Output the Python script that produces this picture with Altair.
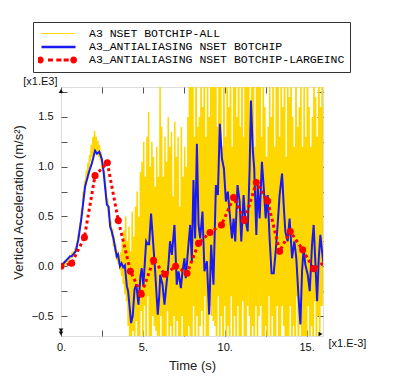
import altair as alt
import pandas as pd

# ---------------- data ----------------
names = ["A3 NSET BOTCHIP-ALL",
         "A3_ANTIALIASING NSET BOTCHIP",
         "A3_ANTIALIASING NSET BOTCHIP-LARGEINC"]
colors = ["#FFD700", "#1a1af0", "#FF0000"]

# gold series, sampled every 0.05 (x1.E-3 s), one block per 1 unit of time
gold_step = 0.05
g00 = [0.0, 0.02, -0.01, 0.03, 0.01, 0.05, 0.03, 0.07, 0.04, 0.09, 0.06, 0.11, 0.08, 0.12, 0.1, 0.15, 0.12, 0.18, 0.15, 0.22]
g01 = [0.24, 0.32, 0.3, 0.44, 0.42, 0.58, 0.55, 0.75, 0.7, 0.86, 0.82, 0.96, 0.9, 1.04, 0.98, 1.12, 1.05, 1.22, 1.1, 1.3]
g02 = [1.12, 1.36, 1.16, 1.3, 1.12, 1.26, 1.1, 1.22, 1.06, 1.15, 0.98, 1.05, 0.92, 0.96, 0.78, 0.8, 0.62, 0.68, 0.5, 0.6]
g03 = [0.38, 0.46, 0.3, 0.38, 0.2, 0.3, 0.14, 0.22, 0.06, 0.16, 0.02, 0.12, -0.04, 0.14, -0.1, 0.24, -0.18, 0.36, -0.28, 0.5]
g04 = [-0.35, 0.25, -0.6, 0.4, -0.85, 0.15, -0.75, 0.55, -0.65, 0.3, -0.9, 0.6, -0.55, 0.75, -0.8, 0.5, -0.95, 0.95, -0.45, 1.05]
g05 = [-0.85, 1.25, -0.4, 0.9, -1.0, 1.3, -0.3, 1.55, -0.85, 1.0, -1.1, 1.25, -0.5, 1.1, -0.6, 0.8, -0.65, 1.2, -0.95, 0.9]
g06 = [-1.2, 1.85, -0.5, 1.4, -1.1, 0.9, -0.8, 1.3, -1.3, 1.05, -0.45, 1.5, -0.9, 1.2, -0.6, 1.35, -1.2, 0.7, -0.5, 1.45]
g07 = [-1.0, 1.1, -0.55, 1.3, -0.9, 0.6, -1.2, 1.4, -0.5, 0.9, -1.1, 1.2, -0.8, 1.0, -1.3, 1.5, -0.6, 2.2, -1.0, 2.4]
g08 = [-0.9, 2.2, -0.4, 1.3, -1.5, 2.8, -0.5, 1.4, -1.0, 1.5, -0.6, 2.0, -0.45, 1.6, -0.8, 2.3, -0.3, 1.3, -1.8, 2.1]
g09 = [-0.7, 1.5, -0.4, 1.9, -0.5, 2.7, -0.55, 2.2, -0.6, 3.0, -1.5, 1.4, -0.3, 2.0, -1.2, 2.6, -0.5, 1.2, -1.6, 2.3]
g10 = [-0.4, 1.3, -1.3, 2.2, -0.6, 1.6, -1.4, 2.5, -0.3, 1.2, -1.1, 2.0, -0.5, 2.4, -1.6, 1.5, -0.4, 2.6, -1.2, 1.4]
g11 = [-0.7, 2.3, -0.35, 1.3, -0.9, 2.9, -1.2, 2.6, -0.4, 3.1, -0.5, 1.4, -1.6, 2.0, -0.6, 2.5, -1.3, 1.2, -0.4, 2.4]
g12 = [-1.1, 2.1, -0.5, 2.7, -0.4, 1.3, -0.9, 2.2, -1.2, 1.6, -0.6, 1.1, -1.7, 1.4, -0.3, 1.8, -1.3, 1.5, -0.5, 2.2]
g13 = [-1.0, 1.2, -1.5, 2.3, -0.4, 2.6, -1.2, 1.3, -0.9, 2.1, -0.4, 1.6, -0.6, 2.4, -1.1, 1.1, -0.8, 2.0, -1.5, 1.7]
g14 = [-0.4, 2.2, -1.3, 1.5, -0.6, 1.2, -1.6, 2.3, -0.3, 1.4, -1.8, 1.6, -0.5, 2.0, -0.8, 1.2, -1.4, 2.1, -0.7, 1.3]
g15 = [-1.1, 2.4, -0.4, 1.6, -1.3, 1.2, -0.6, 1.5, -1.5, 2.2, -0.35, 1.7, -1.2, 1.3, -0.5, 2.3, -1.0, 1.6, -0.4, 2.0]
g16 = [-0.4, 1.2]
gold_v = g00 + g01 + g02 + g03 + g04 + g05 + g06 + g07 + g08 + g09 + g10 + g11 + g12 + g13 + g14 + g15 + g16
gold_t = [round(i * gold_step, 2) for i in range(len(gold_v))]

blue_t = [0.0, 0.35, 0.55, 0.65, 0.9, 1.06, 1.26, 1.47, 1.6, 1.75, 1.88, 2.08, 2.2, 2.34, 2.49, 2.6,
          2.8, 2.9, 3.0, 3.1, 3.22, 3.4, 3.48, 3.6, 3.7, 3.8, 3.9, 4.02, 4.1, 4.28, 4.38, 4.49, 4.6,
          4.73, 4.85, 4.93, 5.03, 5.2, 5.3, 5.38, 5.5, 5.6, 5.75, 5.91, 6.0, 6.06, 6.2, 6.32, 6.46,
          6.56, 6.66, 6.77, 6.93, 7.07, 7.18, 7.32, 7.42, 7.54, 7.62, 7.75, 7.89, 7.99, 8.09, 8.19,
          8.3, 8.4, 8.5, 8.64, 8.76, 8.91, 9.05, 9.17, 9.31, 9.46, 9.58, 9.7, 9.83, 9.95, 10.07,
          10.19, 10.34, 10.44, 10.54, 10.64, 10.78, 10.91, 11.01, 11.15, 11.25, 11.4, 11.52, 11.6,
          11.72, 11.8, 11.93, 12.01, 12.13, 12.27, 12.37, 12.5, 12.62, 12.74, 12.86, 12.99, 13.11,
          13.23, 13.35, 13.5, 13.6, 13.7, 13.84, 13.96, 14.11, 14.25, 14.37, 14.51, 14.62, 14.72,
          14.82, 14.92, 15.07, 15.19, 15.33, 15.43, 15.54, 15.64, 15.74, 15.84, 15.94, 16.08]
blue_v = [0.0, 0.065, 0.1, 0.1, 0.15, 0.27, 0.5, 0.8, 0.88, 0.97, 1.03, 1.16, 1.13, 1.15, 1.08, 0.95,
          0.62, 0.6, 0.4, 0.35, 0.265, 0.1, 0.12, 0.0, 0.03, -0.01, 0.01, -0.2, -0.25, -0.57, -0.5,
          -0.235, -0.18, -0.385, -0.1, -0.02, -0.2, 0.25, 0.22, 0.22, 0.53, 0.3, -0.05, -0.485, -0.3,
          -0.085, -0.185, -0.385, -0.15, 0.015, 0.25, 0.115, 0.415, -0.185, -0.05, -0.22, -0.05,
          0.08, -0.12, 0.15, 0.415, 0.05, 0.865, 0.28, 1.23, 0.415, 0.28, 0.55, -0.05, 0.05, -0.485,
          0.215, -0.185, 0.815, 0.715, 1.43, 1.08, 0.98, 0.65, 0.75, 0.46, 0.28, 0.48, 0.25, 0.815,
          0.65, 0.25, 0.715, 0.48, 0.35, 0.98, 1.665, 1.15, 0.98, 0.315, 0.815, 0.48, 1.05, 0.815,
          0.48, 0.715, 0.28, -0.07, -0.07, 0.15, 0.415, 0.715, 0.93, 0.615, 0.35, 0.25, 0.48, 0.08,
          0.25, 0.08, -0.32, -0.585, -0.05, 0.18, 0.015, -0.085, -0.25, 0.215, 0.415, 0.015, -0.35,
          0.08, 0.315, 0.15, -0.05]

red_t = [0.0, 0.65, 1.43, 2.08, 2.83, 3.5, 4.24, 4.9, 5.65, 6.34, 7.0, 7.7, 8.4, 9.1, 9.8,
         10.54, 11.2, 11.93, 12.62, 13.35, 14.0, 14.76, 15.43, 16.5]
red_v = [0.0, 0.03, 0.29, 0.91, 1.04, 0.46, -0.05, -0.28, 0.06, -0.08, 0.0, -0.07, 0.23, 0.34,
         0.415, 0.69, 0.46, 0.84, 0.655, 0.15, 0.35, 0.165, -0.025, 0.08]

x_ticks_major = [0, 5, 10, 15]
x_ticks_minor = [0, 2.5, 5, 7.5, 10, 12.5, 15]
y_ticks_major = [-0.5, 0.0, 0.5, 1.0, 1.5]
y_ticks_minor = [-0.5, -0.25, 0.0, 0.25, 0.5, 0.75, 1.0, 1.25, 1.5, 1.75]
x_domain = [0, 16]
y_domain = [-0.7, 1.8]

# axis-end arrow glyphs
arrow_t = [0, 0, 0, 15.85]
arrow_v = [1.76, -0.645, -0.675, -0.68]
arrow_shape = ["triangle-up", "triangle-down", "triangle-down", "triangle-right"]

W, H = 262, 249

gold_df = pd.DataFrame({"t": gold_t, "v": gold_v, "series": names[0]})
blue_df = pd.DataFrame({"t": blue_t, "v": blue_v, "series": names[1]})
red_df = pd.DataFrame({"t": red_t, "v": red_v, "series": names[2]})
arrow_df = pd.DataFrame({"t": arrow_t, "v": arrow_v, "shape": arrow_shape})

xs = alt.Scale(domain=x_domain, nice=False, zero=False)
ys = alt.Scale(domain=y_domain, nice=False, zero=False)


def ax(**kw):
    base = dict(grid=False, domain=False, labelFont="Liberation Sans", labelFontSize=11,
                labelColor="#111", titleFont="Liberation Sans", titleFontSize=13,
                titleColor="#222", titleFontWeight="normal", tickColor="#555",
                tickWidth=1, tickSize=6, labelFlush=False)
    base.update(kw)
    return alt.Axis(**base)


def leg(**kw):
    base = dict(orient="none", legendX=-28, direction="vertical", padding=5,
                labelFont="Liberation Mono", labelFontSize=11.5, labelColor="black",
                labelOffset=16, labelLimit=400, symbolSize=1156, symbolOffset=2,
                clipHeight=13, rowPadding=0, title=None)
    base.update(kw)
    return alt.Legend(**base)


red_path = ("M-1.18,0A0.2,0.2 0 1,0 -0.78,0A0.2,0.2 0 1,0 -1.18,0Z "
            "M0.78,0A0.2,0.2 0 1,0 1.18,0A0.2,0.2 0 1,0 0.78,0Z "
            "M-0.53,-0.09H-0.24V0.09H-0.53Z M-0.04,-0.09H0.26V0.09H-0.04Z "
            "M0.39,-0.09H0.69V0.09H0.39Z")

gold_legend = leg(legendY=-65, symbolType="stroke", symbolStrokeWidth=1.2, labelOffset=13,
                  fillColor="transparent", strokeColor="transparent", zindex=1)
blue_legend = leg(legendY=-51.5, symbolType="stroke", symbolStrokeWidth=2.5, labelOffset=12,
                  symbolStrokeColor=colors[1],
                  fillColor="transparent", strokeColor="transparent", zindex=1)
red_legend = leg(legendY=-65, symbolType=red_path, symbolStrokeWidth=0, labelOffset=15,
                 fillColor="white", strokeColor="#333", zindex=0,
                 title=["M", "M"], titleOpacity=0, titleFontSize=11, titleLineHeight=15.5,
                 titlePadding=0)

gold = alt.Chart(gold_df).mark_line(strokeWidth=1.5, clip=True).encode(
    x=alt.X("t:Q", scale=xs, axis=ax(orient="bottom", values=x_ticks_major,
                                     labelExpr="datum.value + '.'", ticks=False, labelPadding=5,
                                     title="Time (s)", titleX=W / 2, titleY=29,
                                     titleBaseline="middle", titleAlign="center")),
    y=alt.Y("v:Q", scale=ys, axis=ax(orient="left", values=y_ticks_major, format=".1f",
                                     ticks=False, labelPadding=8,
                                     title="Vertical Acceleration (m/s²)", titleAngle=270,
                                     titleX=-36, titleY=115, titleAlign="center",
                                     titleBaseline="bottom")),
    color=alt.Color("series:N", scale=alt.Scale(domain=[names[0]], range=[colors[0]]),
                    legend=gold_legend),
    order=alt.Order("t:Q"),
)

blue = alt.Chart(blue_df).mark_line(color=colors[1], strokeWidth=2, clip=True).encode(
    x=alt.X("t:Q", scale=xs, axis=ax(orient="top", offset=-H, values=x_ticks_minor, labels=False,
                                     title="[x1.E-3]", titleX=267, titleY=7, titleAngle=0,
                                     titleAlign="left", titleBaseline="middle",
                                     titleFontSize=11, titleColor="#111")),
    y=alt.Y("v:Q", scale=ys, axis=ax(orient="right", offset=-W, values=y_ticks_minor, labels=False,
                                     title="[x1.E3]", titleX=-4, titleY=-1, titleAngle=0,
                                     titleAlign="right", titleBaseline="bottom",
                                     titleFontSize=11, titleColor="#111")),
    strokeDash=alt.StrokeDash("series:N", scale=alt.Scale(domain=[names[1]], range=[[1, 0]]),
                              legend=blue_legend),
    order=alt.Order("t:Q"),
)

red_line = alt.Chart(red_df).mark_line(strokeWidth=3, color=colors[2], strokeDash=[3, 3],
                                       clip=True).encode(
    x=alt.X("t:Q", scale=xs, axis=ax(orient="bottom", offset=-H, values=x_ticks_minor,
                                     labels=False, title=None)),
    y=alt.Y("v:Q", scale=ys, axis=ax(orient="left", offset=-W, values=y_ticks_minor,
                                     labels=False, title=None)),
    order=alt.Order("t:Q"),
)

red_pts = alt.Chart(red_df).mark_point(filled=True, size=50, color=colors[2],
                                       clip=True).encode(
    x=alt.X("t:Q", scale=xs, axis=None),
    y=alt.Y("v:Q", scale=ys, axis=None),
    opacity=alt.Opacity("series:N", scale=alt.Scale(domain=[names[2]], range=[1]),
                        legend=red_legend),
)

arrows = alt.Chart(arrow_df).mark_point(filled=True, size=22, color="#111", opacity=1).encode(
    x=alt.X("t:Q", scale=xs, axis=None),
    y=alt.Y("v:Q", scale=ys, axis=None),
    shape=alt.Shape("shape:N", scale=None),
)

chart = alt.layer(gold, blue, red_line, red_pts, arrows).resolve_axis(
    x="independent", y="independent"
).properties(
    width=W, height=H,
    autosize=alt.AutoSizeParams(type="none"),
    padding={"left": 53, "top": 79, "right": 65, "bottom": 41},
).configure_view(stroke="#555", strokeWidth=1.5).configure(background="white")

chart.save("out.html", embed_options={"renderer": "svg", "actions": False})
